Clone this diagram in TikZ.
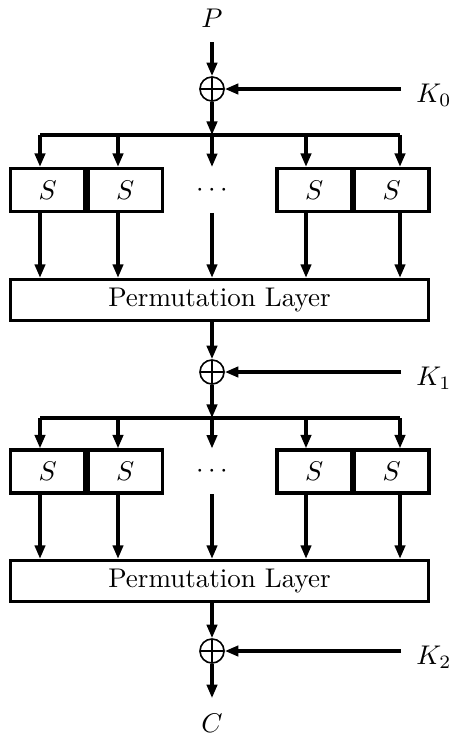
\documentclass[tikz,border=0pt]{standalone}
\usetikzlibrary{arrows.meta}
\begin{document}
\begin{tikzpicture}[x=0.37pt,y=-0.37pt,
  conn/.style={line width=1.2pt},
  arr/.style={line width=1.2pt,-{Triangle[length=5pt,width=3.8pt]}},
  sbox/.style={draw,line width=1.2pt,minimum width=27.5pt,minimum height=15.9pt,inner sep=0pt},
  permbox/.style={draw,line width=1.2pt,minimum width=154.6pt,minimum height=15.2pt,inner sep=0pt},
  dotsbox/.style={minimum width=27pt,minimum height=16.6pt,inner sep=0pt},
  lbl/.style={inner sep=5.5pt},
  xorc/.style={circle,draw,line width=0.6pt,minimum size=8.9pt,inner sep=0pt,
    path picture={\draw[line width=0.6pt] (path picture bounding box.north) -- (path picture bounding box.south)
      (path picture bounding box.west) -- (path picture bounding box.east);}}
]
\useasboundingbox (0,0) rectangle (451,735);

% inputs
\node[lbl,anchor=base] (P) at (212,27) {$P$};
\node[xorc] (x0) at (212,89) {};
\node[lbl,anchor=base west] (K0) at (401,102) {$K_0$};
\draw[arr] (P) -- (x0.north);
\draw[arr] (K0.west |- x0) -- (x0.east);

% round 1
\coordinate (a0) at (40,135);
\coordinate (b0) at (118,135);
\coordinate (c0) at (212,135);
\coordinate (d0) at (306,135);
\coordinate (e0) at (400,135);
\draw[arr] (x0.south) -- (c0);
\draw[conn] (a0) -- (e0);
\node[sbox] (s01) at (47.75,190) {$S$};
\node[sbox] (s02) at (125.25,190) {$S$};
\node[dotsbox] (dt0) at (212,190) {$\cdots$};
\node[sbox] (s03) at (314.25,190) {$S$};
\node[sbox] (s04) at (391.75,190) {$S$};
\node[permbox] (p0) at (219.5,300) {Permutation Layer};
\draw[arr] (a0) -- (a0 |- s01.north);
\draw[arr] (b0) -- (b0 |- s02.north);
\draw[arr] (c0) -- (dt0.north);
\draw[arr] (d0) -- (d0 |- s03.north);
\draw[arr] (e0) -- (e0 |- s04.north);
\draw[arr] (a0 |- s01.south) -- (a0 |- p0.north);
\draw[arr] (b0 |- s02.south) -- (b0 |- p0.north);
\draw[arr] (dt0.south) -- (c0 |- p0.north);
\draw[arr] (d0 |- s03.south) -- (d0 |- p0.north);
\draw[arr] (e0 |- s04.south) -- (e0 |- p0.north);

\node[xorc] (x1) at (212,372) {};
\node[lbl,anchor=base west] (K1) at (401,385) {$K_1$};
\draw[arr] (c0 |- p0.south) -- (x1.north);
\draw[arr] (K1.west |- x1) -- (x1.east);

% round 2
\coordinate (a1) at (40,418);
\coordinate (b1) at (118,418);
\coordinate (c1) at (212,418);
\coordinate (d1) at (306,418);
\coordinate (e1) at (400,418);
\draw[arr] (x1.south) -- (c1);
\draw[conn] (a1) -- (e1);
\node[sbox] (s11) at (47.75,471.5) {$S$};
\node[sbox] (s12) at (125.25,471.5) {$S$};
\node[dotsbox] (dt1) at (212,471.5) {$\cdots$};
\node[sbox] (s13) at (314.25,471.5) {$S$};
\node[sbox] (s14) at (391.75,471.5) {$S$};
\node[permbox] (p1) at (219.5,581) {Permutation Layer};
\draw[arr] (a1) -- (a1 |- s11.north);
\draw[arr] (b1) -- (b1 |- s12.north);
\draw[arr] (c1) -- (dt1.north);
\draw[arr] (d1) -- (d1 |- s13.north);
\draw[arr] (e1) -- (e1 |- s14.north);
\draw[arr] (a1 |- s11.south) -- (a1 |- p1.north);
\draw[arr] (b1 |- s12.south) -- (b1 |- p1.north);
\draw[arr] (dt1.south) -- (c1 |- p1.north);
\draw[arr] (d1 |- s13.south) -- (d1 |- p1.north);
\draw[arr] (e1 |- s14.south) -- (e1 |- p1.north);

\node[xorc] (x2) at (212,651) {};
\node[lbl,anchor=base west] (K2) at (401,664) {$K_2$};
\draw[arr] (c1 |- p1.south) -- (x2.north);
\draw[arr] (K2.west |- x2) -- (x2.east);

\node[lbl,anchor=base] (C) at (212,732) {$C$};
\draw[arr] (x2.south) -- (C);
\end{tikzpicture}
\end{document}
